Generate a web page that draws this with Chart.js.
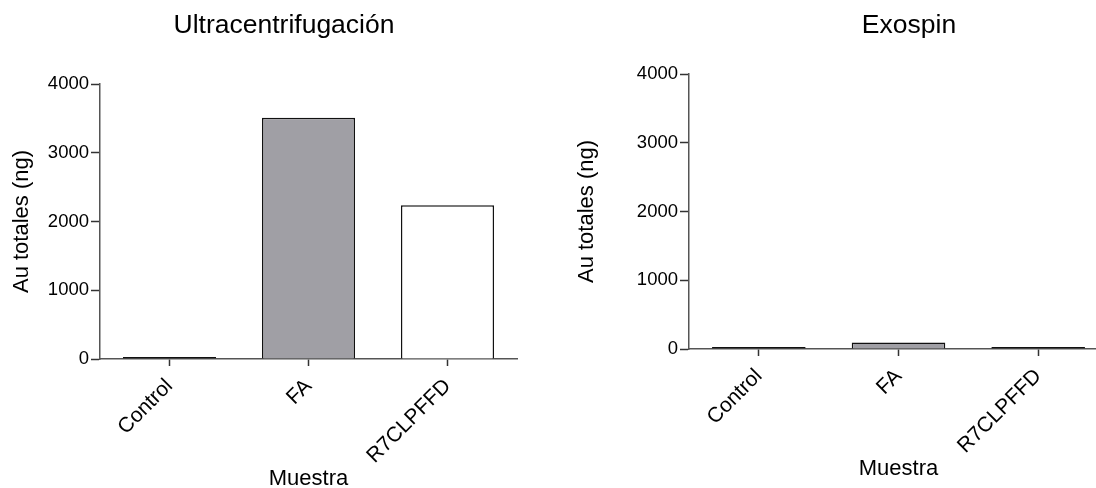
<!DOCTYPE html>
<html>
<head>
<meta charset="utf-8">
<script src="https://cdn.jsdelivr.net/npm/chart.js@4/dist/chart.umd.min.js"></script>
<style>
  html, body { margin: 0; padding: 0; background: #fff; overflow: hidden; width: 1096px; height: 488px; position: relative; }
  canvas { position: absolute; top: 0; }
  #ultra { left: 0; }
  #exo { left: 565px; }
</style>
</head>
<body>
<canvas id="ultra" width="540" height="488"></canvas>
<canvas id="exo" width="548" height="488"></canvas>
<script>
// Samples on the x axis
const categories = ['Control', 'FA', 'R7CLPFFD'];
// Total gold (ng) per sample, by isolation method
const ultraValues = [10, 3510, 2235];
const exospinValues = [3, 95, 3];
// y axis ticks
const yTicks = [0, 1000, 2000, 3000, 4000];
// bar fills per sample
const barFills = ['#ffffff', '#a09fa5', '#ffffff'];

const FONT = '"Liberation Sans", Arial, Helvetica, sans-serif';

// Panel heading drawn straight onto the canvas
const panelTitle = {
  id: 'panelTitle',
  afterDraw(chart, args, opts) {
    const ctx = chart.ctx;
    ctx.save();
    ctx.font = opts.size + 'px ' + FONT;
    ctx.fillStyle = '#000';
    ctx.textAlign = 'center';
    ctx.textBaseline = 'alphabetic';
    ctx.fillText(opts.text, opts.x, opts.y);
    ctx.restore();
  }
};

function makeChart(id, values, cfg) {
  return new Chart(document.getElementById(id), {
    type: 'bar',
    data: {
      labels: categories,
      datasets: [{
        data: values,
        backgroundColor: barFills,
        borderColor: '#111',
        borderWidth: 1.5,
        // tall bars sit on the axis line; near-zero bars keep a full outline
        borderSkipped: (c) => (c.raw > 50 ? 'start' : false),
        minBarLength: 2,
        categoryPercentage: 1,
        barPercentage: 0.67
      }]
    },
    options: {
      responsive: false,
      animation: false,
      devicePixelRatio: 1,
      layout: { padding: { top: cfg.padTop, right: cfg.padRight, bottom: cfg.padBottom, left: 0 } },
      plugins: {
        legend: { display: false },
        tooltip: { enabled: false },
        panelTitle: { text: cfg.title, x: cfg.titleX, y: 33, size: 26.5 }
      },
      scales: {
        x: {
          offset: true,
          grid: { offset: false, drawOnChartArea: false, drawTicks: true, tickLength: 7, tickWidth: 1.5, tickColor: '#333' },
          border: { display: true, color: '#555', width: 1.5 },
          ticks: {
            autoSkip: false, minRotation: 45, maxRotation: 45, padding: 8,
            color: '#000', font: { family: FONT, size: 21 }
          },
          title: {
            display: true, text: 'Muestra', color: '#000',
            font: { family: FONT, size: 22 }, padding: { top: 0, bottom: -4 }
          },
          afterFit(scale) { scale.height = cfg.xHeight; }
        },
        y: {
          min: 0, max: 4000,
          afterBuildTicks(scale) { scale.ticks = yTicks.map(v => ({ value: v })); },
          grid: { drawOnChartArea: false, drawTicks: true, tickLength: 9, tickWidth: 1.5, tickColor: '#333' },
          border: { display: true, color: '#555', width: 1.5 },
          ticks: {
            padding: 2, color: '#000', font: { family: FONT, size: 18.5 },
            callback: (v) => String(v)
          },
          title: {
            display: true, text: 'Au totales (ng)', color: '#000',
            font: { family: FONT, size: 22 }, padding: { top: 9, bottom: 0 }
          },
          afterFit(scale) { scale.width = cfg.yWidth; }
        }
      }
    },
    plugins: [panelTitle]
  });
}

makeChart('ultra', ultraValues, {
  title: 'Ultracentrifugación', titleX: 284,
  padTop: 84, padRight: 23, padBottom: 0, xHeight: 129, yWidth: 100
});
makeChart('exo', exospinValues, {
  title: 'Exospin', titleX: 344,
  padTop: 74, padRight: 5, padBottom: 10, xHeight: 129, yWidth: 124
});
</script>
</body>
</html>
